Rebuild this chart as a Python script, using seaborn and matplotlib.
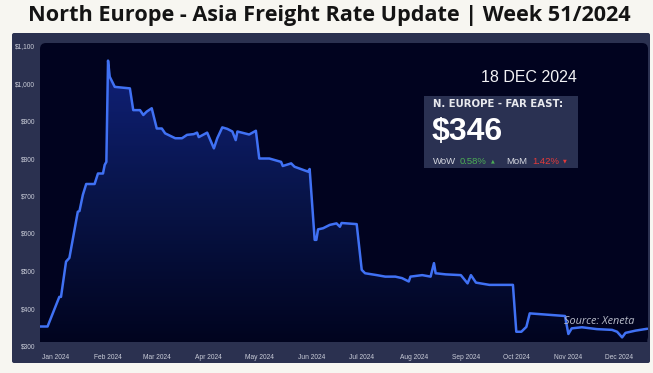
import numpy as np
import pandas as pd
import matplotlib
matplotlib.use("Agg")
import matplotlib.pyplot as plt
import matplotlib.dates as mdates
from matplotlib.patches import FancyBboxPatch, PathPatch, Rectangle
from matplotlib.transforms import IdentityTransform
from matplotlib.colors import LinearSegmentedColormap
import seaborn as sns

# ---------------- data ----------------
dates = ["2023-12-22", "2023-12-27", "2024-01-03", "2024-01-04", "2024-01-07", "2024-01-09",
         "2024-01-12", "2024-01-14", "2024-01-15", "2024-01-17", "2024-01-19", "2024-01-24",
         "2024-01-26", "2024-01-29", "2024-01-30", "2024-01-31", "2024-02-01", "2024-02-02",
         "2024-02-05", "2024-02-14", "2024-02-16", "2024-02-20", "2024-02-22", "2024-02-24",
         "2024-02-27", "2024-03-01", "2024-03-04", "2024-03-06", "2024-03-12", "2024-03-16",
         "2024-03-19", "2024-03-23", "2024-03-25", "2024-03-26", "2024-03-31", "2024-04-04",
         "2024-04-06", "2024-04-09", "2024-04-12", "2024-04-15", "2024-04-17", "2024-04-18",
         "2024-04-25", "2024-04-29", "2024-05-01", "2024-05-07", "2024-05-14", "2024-05-15",
         "2024-05-20", "2024-05-22", "2024-05-30", "2024-05-31", "2024-06-03", "2024-06-04",
         "2024-06-05", "2024-06-08", "2024-06-12", "2024-06-16", "2024-06-18", "2024-06-19",
         "2024-06-28", "2024-07-01", "2024-07-03", "2024-07-10", "2024-07-15", "2024-07-21",
         "2024-07-25", "2024-07-29", "2024-07-30", "2024-08-06", "2024-08-11", "2024-08-13",
         "2024-08-14", "2024-08-20", "2024-08-29", "2024-09-02", "2024-09-04", "2024-09-07",
         "2024-09-15", "2024-09-29", "2024-10-01", "2024-10-04", "2024-10-07", "2024-10-09",
         "2024-10-15", "2024-10-30", "2024-11-01", "2024-11-03", "2024-11-09", "2024-11-18",
         "2024-11-27", "2024-11-30", "2024-12-03", "2024-12-05", "2024-12-11", "2024-12-18"]
rates = [352, 352, 431, 431, 525, 535,
         609, 658, 660, 703, 732, 732,
         760, 760, 783, 791, 1061, 1018,
         991, 987, 929, 929, 916, 925,
         934, 880, 880, 867, 854, 854,
         863, 865, 869, 857, 869, 827,
         854, 883, 879, 872, 849, 872,
         864, 874, 800, 800, 791, 780,
         787, 778, 765, 772, 583, 583,
         611, 614, 623, 627, 618, 628,
         625, 503, 494, 489, 485, 485,
         481, 472, 485, 489, 485, 521,
         494, 491, 489, 467, 489, 469,
         463, 463, 338, 338, 351, 387,
         385, 380, 332, 347, 350, 345,
         343, 338, 323, 335, 341, 346]

month_ticks = ["2024-01-01", "2024-02-01", "2024-03-01", "2024-04-01", "2024-05-01", "2024-06-01",
               "2024-07-01", "2024-08-01", "2024-09-01", "2024-10-01", "2024-11-01", "2024-12-01"]
month_labels = ["Jan 2024", "Feb 2024", "Mar 2024", "Apr 2024", "May 2024", "Jun 2024",
                "Jul 2024", "Aug 2024", "Sep 2024", "Oct 2024", "Nov 2024", "Dec 2024"]
y_ticks = [300, 400, 500, 600, 700, 800, 900, 1000, 1100]
y_labels = ["$300", "$400", "$500", "$600", "$700", "$800", "$900", "$1,000", "$1,100"]

title = "North Europe - Asia Freight Rate Update | Week 51/2024"
date_label = "18 DEC 2024"
route_label = "N. EUROPE - FAR EAST:"
price_label = "$346"
wow_value = "0.58%"
mom_value = "1.42%"
source_label = "Source: Xeneta"

df = pd.DataFrame({"date": pd.to_datetime(dates), "rate": rates})

# ---------------- style ----------------
sns.set_style("dark")
plt.rcParams["font.family"] = ["Liberation Sans", "DejaVu Sans"]

W, H = 653, 373
fig = plt.figure(figsize=(W / 100, H / 100), dpi=100, facecolor="#f7f6f1")

def px(x0, y0, x1, y1):
    # top-left pixel coords -> display coords (bottom-left origin)
    return x0, H - y1, x1 - x0, y1 - y0

# outer panel
x, y, w, h = px(12, 33, 650, 363)
fig.add_artist(FancyBboxPatch((x, y), w, h, boxstyle="round,pad=0,rounding_size=2",
                              transform=IdentityTransform(), facecolor="#2b3150",
                              edgecolor="none", zorder=-3))
# navy plot area
x, y, w, h = px(40, 43, 648, 342)
fig.add_artist(FancyBboxPatch((x, y), w, h, boxstyle="round,pad=0,rounding_size=6",
                              transform=IdentityTransform(), facecolor="#01031f",
                              edgecolor="none", zorder=-2))

ax = fig.add_axes([40 / W, (H - 346) / H, 608 / W, 300 / H])
ax.set_facecolor("none")
for s in ax.spines.values():
    s.set_visible(False)
ax.grid(False)

jan1 = mdates.date2num(pd.Timestamp("2024-01-01"))
xmin, xmax = jan1 - 9.5, jan1 + 352.4

# gradient fill under line
xnum = mdates.date2num(df["date"])
poly = ax.fill_between(xnum, df["rate"], 310, color="none", linewidth=0)
clip = PathPatch(poly.get_paths()[0], transform=ax.transData, facecolor="none", edgecolor="none")
ax.add_patch(clip)
cmap = LinearSegmentedColormap.from_list("g", ["#01041f", "#081448", "#10217a"])
grad = np.linspace(0, 1, 256).reshape(-1, 1)
img = ax.imshow(grad, extent=[xmin, xmax, 310, 1070], origin="lower", aspect="auto",
                cmap=cmap, zorder=1)
img.set_clip_path(clip)

sns.lineplot(data=df, x="date", y="rate", ax=ax, color="#4071f4", linewidth=1.8, zorder=3)

ax.set_xlim(xmin, xmax)
ax.set_ylim(300, 1100)
ax.set_xticks(mdates.date2num(pd.to_datetime(month_ticks)))
ax.set_xticklabels(month_labels)
ax.set_yticks(y_ticks)
ax.set_yticklabels(y_labels)
ax.set_xlabel("")
ax.set_ylabel("")
ax.tick_params(axis="x", length=0, pad=5.5, labelsize=4.8, labelcolor="#c9ccd8")
ax.tick_params(axis="y", length=0, pad=3.5, labelsize=4.8, labelcolor="#c9ccd8")

# title
fig.text(329 / W, 1 - 16 / H, title, ha="center", va="center", fontsize=15.6,
         fontweight="bold", family=["Open Sans", "DejaVu Sans"], color="#141414")

# annotation box
fig.text(577 / W, 1 - 77 / H, date_label, ha="right", va="center", fontsize=11.5,
         color="#f2f2f5")
x, y, w, h = px(424, 96, 578, 168)
fig.add_artist(Rectangle((x, y), w, h, transform=IdentityTransform(),
                         facecolor="#2a3152", edgecolor="none", zorder=5))
fig.text(433 / W, 1 - 104 / H, route_label, ha="left", va="center", fontsize=7.3,
         fontweight="bold", family=["DejaVu Sans"], color="#e8e9ee", zorder=6)
fig.text(432 / W, 1 - 132 / H, price_label, ha="left", va="center", fontsize=23,
         fontweight="bold", color="#ffffff", zorder=6)
ty = 1 - 161 / H
fig.text(433 / W, ty, "WoW", ha="left", va="center", fontsize=6.8, color="#d4d6df", zorder=6)
fig.text(460 / W, ty, wow_value, ha="left", va="center", fontsize=6.8, color="#4cae55", zorder=6)
fig.text(493 / W, ty, "\u25b2", ha="center", va="center", fontsize=3.5, color="#4cae55",
         family=["DejaVu Sans"], zorder=6)
fig.text(506 / W, ty, "MoM", ha="left", va="center", fontsize=6.8, color="#d4d6df", zorder=6)
fig.text(532 / W, ty, mom_value, ha="left", va="center", fontsize=6.8, color="#e53a3a", zorder=6)
fig.text(565 / W, ty, "\u25bc", ha="center", va="center", fontsize=3.5, color="#e53a3a",
         family=["DejaVu Sans"], zorder=6)

# source
fig.text(634 / W, 1 - 322 / H, source_label, ha="right", va="center", fontsize=7.8,
         style="italic", family=["Open Sans", "DejaVu Sans"], color="#b9bdca", zorder=6)

fig.savefig("out.png", dpi=100, facecolor=fig.get_facecolor())
